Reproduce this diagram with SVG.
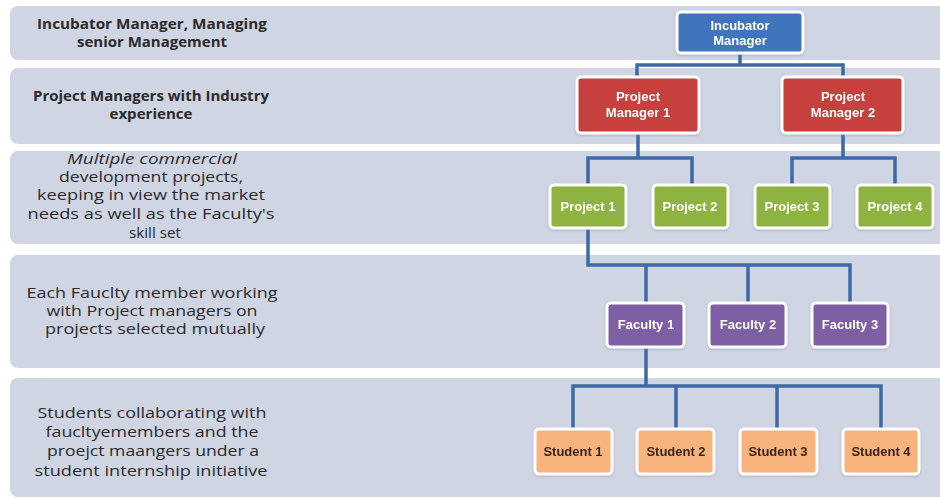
<svg xmlns="http://www.w3.org/2000/svg" width="940" height="499" viewBox="0 0 940 499">
<style>
.band{fill:#d0d5e3}
.lbl{font-family:"Open Sans","Liberation Sans",sans-serif;font-size:14px;fill:#2a2a2a;text-anchor:middle}
.lb{font-weight:bold}
.box{stroke:#ffffff;stroke-width:3}
.nt{font-family:"Liberation Sans",Arial,sans-serif;font-weight:bold;font-size:13px;fill:#ffffff;text-anchor:middle}
.st{fill:#3a2414}
.con{fill:none;stroke:#3c6aa6;stroke-width:3.5;stroke-linejoin:miter}
</style>
<defs>
<filter id="sh" x="-10%" y="-10%" width="120%" height="130%">
<feDropShadow dx="0" dy="1" stdDeviation="1.2" flood-color="#7f8699" flood-opacity="0.5"/>
</filter>
</defs>
<rect width="940" height="499" fill="#ffffff"/>
<g id="bands">
<rect class="band" x="10" y="6" width="945" height="54" rx="8"/>
<rect class="band" x="10" y="68" width="945" height="76" rx="8"/>
<rect class="band" x="10" y="151" width="945" height="93" rx="8"/>
<rect class="band" x="10" y="255" width="945" height="113" rx="8"/>
<rect class="band" x="10" y="378" width="945" height="119" rx="8"/>
</g>
<g id="labels">
<text class="lbl lb" x="152" y="29" textLength="230" lengthAdjust="spacingAndGlyphs">Incubator Manager, Managing</text>
<text class="lbl lb" x="152" y="47" textLength="150" lengthAdjust="spacingAndGlyphs">senior Management</text>
<text class="lbl lb" x="151" y="101" textLength="236" lengthAdjust="spacingAndGlyphs">Project Managers with Industry</text>
<text class="lbl lb" x="151" y="119" textLength="83" lengthAdjust="spacingAndGlyphs">experience</text>
<text class="lbl" x="152" y="164" font-style="italic" textLength="170" lengthAdjust="spacingAndGlyphs">Multiple commercial</text>
<text class="lbl" x="151" y="182" textLength="184" lengthAdjust="spacingAndGlyphs">development projects,</text>
<text class="lbl" x="151" y="200" textLength="228" lengthAdjust="spacingAndGlyphs">keeping in view the market</text>
<text class="lbl" x="151" y="219" textLength="247" lengthAdjust="spacingAndGlyphs">needs as well as the Faculty's</text>
<text class="lbl" x="155" y="238" textLength="52" lengthAdjust="spacingAndGlyphs">skill set</text>
<text class="lbl" x="152" y="298" textLength="251" lengthAdjust="spacingAndGlyphs">Each Fauclty member working</text>
<text class="lbl" x="152" y="316" textLength="211" lengthAdjust="spacingAndGlyphs">with Project managers on</text>
<text class="lbl" x="155" y="334" textLength="220" lengthAdjust="spacingAndGlyphs">projects selected mutually</text>
<text class="lbl" x="152" y="418" textLength="229" lengthAdjust="spacingAndGlyphs">Students collaborating with</text>
<text class="lbl" x="152" y="437" textLength="213" lengthAdjust="spacingAndGlyphs">faucltyemembers and the</text>
<text class="lbl" x="153" y="456" textLength="212" lengthAdjust="spacingAndGlyphs">proejct maangers under a</text>
<text class="lbl" x="151" y="476" textLength="233" lengthAdjust="spacingAndGlyphs">student internship initiative</text>
</g>
<g id="connectors">
<path class="con" d="M740 53 V65 M637 77 V65 H843 V77"/>
<path class="con" d="M638 133 V158 M588 185 V158 H692 V185"/>
<path class="con" d="M843 133 V158 M792 185 V158 H895 V185"/>
<path class="con" d="M588 228 V265 H850 V303 M646 265 V303 M748 265 V303"/>
<path class="con" d="M646 347 V386 M573 429 V386 H881 V429 M676 386 V429 M777 386 V429"/>
</g>
<g id="incubator-manager" filter="url(#sh)">
<rect class="box" x="677" y="12" width="126" height="41" rx="4" fill="#3f74bb"/>
<text class="nt" x="740" y="30">Incubator</text>
<text class="nt" x="740" y="45">Manager</text>
</g>
<g id="project-manager-1" filter="url(#sh)">
<rect class="box" x="577" y="77" width="122" height="56" rx="4" fill="#c63f3d"/>
<text class="nt" x="638" y="101">Project</text>
<text class="nt" x="638" y="117">Manager 1</text>
</g>
<g id="project-manager-2" filter="url(#sh)">
<rect class="box" x="782" y="77" width="121" height="56" rx="4" fill="#c63f3d"/>
<text class="nt" x="843" y="101">Project</text>
<text class="nt" x="843" y="117">Manager 2</text>
</g>
<g id="project-1" filter="url(#sh)">
<rect class="box" x="550" y="185" width="76" height="43" rx="4" fill="#8fb33f"/>
<text class="nt" x="588" y="211">Project 1</text>
</g>
<g id="project-2" filter="url(#sh)">
<rect class="box" x="653" y="185" width="75" height="43" rx="4" fill="#8fb33f"/>
<text class="nt" x="690" y="211">Project 2</text>
</g>
<g id="project-3" filter="url(#sh)">
<rect class="box" x="755" y="185" width="75" height="43" rx="4" fill="#8fb33f"/>
<text class="nt" x="792" y="211">Project 3</text>
</g>
<g id="project-4" filter="url(#sh)">
<rect class="box" x="857" y="185" width="76" height="43" rx="4" fill="#8fb33f"/>
<text class="nt" x="895" y="211">Project 4</text>
</g>
<g id="faculty-1" filter="url(#sh)">
<rect class="box" x="607" y="303" width="77" height="44" rx="4" fill="#7e5ea3"/>
<text class="nt" x="646" y="329">Faculty 1</text>
</g>
<g id="faculty-2" filter="url(#sh)">
<rect class="box" x="709" y="303" width="77" height="44" rx="4" fill="#7e5ea3"/>
<text class="nt" x="748" y="329">Faculty 2</text>
</g>
<g id="faculty-3" filter="url(#sh)">
<rect class="box" x="812" y="303" width="76" height="44" rx="4" fill="#7e5ea3"/>
<text class="nt" x="850" y="329">Faculty 3</text>
</g>
<g id="student-1" filter="url(#sh)">
<rect class="box" x="535" y="429" width="77" height="45" rx="4" fill="#f8b47c"/>
<text class="nt st" x="573" y="456">Student 1</text>
</g>
<g id="student-2" filter="url(#sh)">
<rect class="box" x="637" y="429" width="77" height="45" rx="4" fill="#f8b47c"/>
<text class="nt st" x="676" y="456">Student 2</text>
</g>
<g id="student-3" filter="url(#sh)">
<rect class="box" x="740" y="429" width="77" height="45" rx="4" fill="#f8b47c"/>
<text class="nt st" x="778" y="456">Student 3</text>
</g>
<g id="student-4" filter="url(#sh)">
<rect class="box" x="843" y="429" width="76" height="45" rx="4" fill="#f8b47c"/>
<text class="nt st" x="881" y="456">Student 4</text>
</g>
</svg>
